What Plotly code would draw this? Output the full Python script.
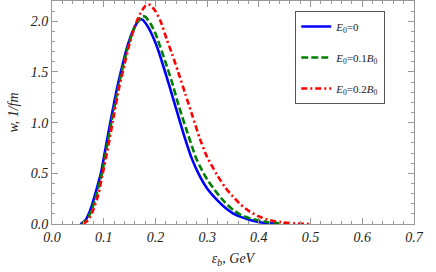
import plotly.graph_objects as go

# Data
x_e0 = [0.055, 0.065, 0.075, 0.085, 0.095, 0.105, 0.115, 0.125, 0.135, 0.145, 0.155, 0.165, 0.170, 0.175,
        0.185, 0.195, 0.205, 0.212, 0.226, 0.241, 0.255, 0.270, 0.286, 0.300, 0.3185, 0.335, 0.350, 0.365,
        0.383, 0.402, 0.420, 0.440]
y_e0 = [0.0, 0.04, 0.15, 0.32, 0.51, 0.79, 1.06, 1.32, 1.54, 1.74, 1.89, 1.99, 2.02, 2.015,
        1.95, 1.85, 1.72, 1.61, 1.38, 1.12, 0.88, 0.65, 0.47, 0.35, 0.24, 0.16, 0.105, 0.07,
        0.04, 0.018, 0.006, 0.0]

x_e01 = [0.057, 0.067, 0.077, 0.087, 0.097, 0.107, 0.117, 0.127, 0.137, 0.147, 0.157, 0.167, 0.175, 0.180,
         0.190, 0.200, 0.2185, 0.232, 0.246, 0.260, 0.2785, 0.286, 0.300, 0.3185, 0.335, 0.350, 0.365,
         0.383, 0.415, 0.440, 0.460]
y_e01 = [0.0, 0.04, 0.14, 0.31, 0.51, 0.79, 1.06, 1.32, 1.55, 1.75, 1.91, 2.01, 2.05, 2.045,
         1.98, 1.88, 1.61, 1.40, 1.15, 0.93, 0.65, 0.57, 0.44, 0.31, 0.21, 0.14, 0.09,
         0.055, 0.02, 0.007, 0.0]

x_e02 = [0.060, 0.070, 0.080, 0.090, 0.0967, 0.1096, 0.120, 0.130, 0.140, 0.150, 0.160, 0.170, 0.180, 0.185,
         0.190, 0.200, 0.210, 0.222, 0.232, 0.244, 0.258, 0.272, 0.286, 0.300, 0.3185, 0.335, 0.350, 0.365,
         0.383, 0.400, 0.415, 0.430, 0.447, 0.470, 0.500]
y_e02 = [0.0, 0.04, 0.14, 0.30, 0.464, 0.79, 1.08, 1.35, 1.57, 1.78, 1.95, 2.07, 2.15, 2.165,
         2.16, 2.10, 2.00, 1.82, 1.68, 1.50, 1.28, 1.06, 0.84, 0.66, 0.49, 0.36, 0.27, 0.19,
         0.12, 0.075, 0.046, 0.028, 0.016, 0.006, 0.0]

names = ["<i>E</i><sub>0</sub>=0", "<i>E</i><sub>0</sub>=0.1<i>B</i><sub>0</sub>", "<i>E</i><sub>0</sub>=0.2<i>B</i><sub>0</sub>"]
colors = ["#0000ff", "#008000", "#ff0000"]
dashes = ["solid", "7px,3px", "6px,3px,2px,3px"]

serif = "Liberation Serif"
fig = go.Figure()
for i, (xs, ys) in enumerate([(x_e0, y_e0), (x_e01, y_e01), (x_e02, y_e02)]):
    fig.add_trace(go.Scatter(
        x=xs, y=ys, mode="lines", name=names[i], legendgroup=str(i),
        line=dict(color=colors[i], width=2.6, dash=dashes[i], shape="spline", smoothing=0.6),
    ))

tfont = dict(family=serif, size=14, color="#222222", style="italic")
axis_common = dict(
    showgrid=False, zeroline=False, showline=True, linecolor="#999999", linewidth=1,
    mirror="allticks", ticks="inside", ticklen=6, tickcolor="#999999", tickwidth=1,
    tickfont=tfont, automargin=False,
)
fig.update_layout(
    width=436, height=272,
    margin=dict(l=52, r=22, t=1, b=48),
    paper_bgcolor="white", plot_bgcolor="white",
    showlegend=True,
    legend=dict(
        x=0.672, y=0.955, xanchor="left", yanchor="top",
        bordercolor="#555555", borderwidth=1, bgcolor="white",
        font=dict(family=serif, size=11, color="#222222"),
        tracegroupgap=12, traceorder="grouped", itemwidth=30,
    ),
    xaxis=dict(
        range=[0, 0.7], dtick=0.1, tickformat=".1f",
        minor=dict(dtick=0.02, ticks="inside", ticklen=3, tickcolor="#999999"),
        title=dict(text="<i>ε<sub>b</sub>, GeV</i>", font=dict(family=serif, size=14, color="#222222"), standoff=9),
        **axis_common,
    ),
    yaxis=dict(
        range=[0, 2.2], dtick=0.5, tickformat=".1f",
        minor=dict(dtick=0.1, ticks="inside", ticklen=3, tickcolor="#999999"),
        title=dict(text="<i>w, 1/fm</i>", font=dict(family=serif, size=14, color="#222222"), standoff=8),
        **axis_common,
    ),
)
fig.write_html("out.html", config={"displayModeBar": False},
               post_script="document.body.style.margin='0';document.body.style.overflow='hidden';")
